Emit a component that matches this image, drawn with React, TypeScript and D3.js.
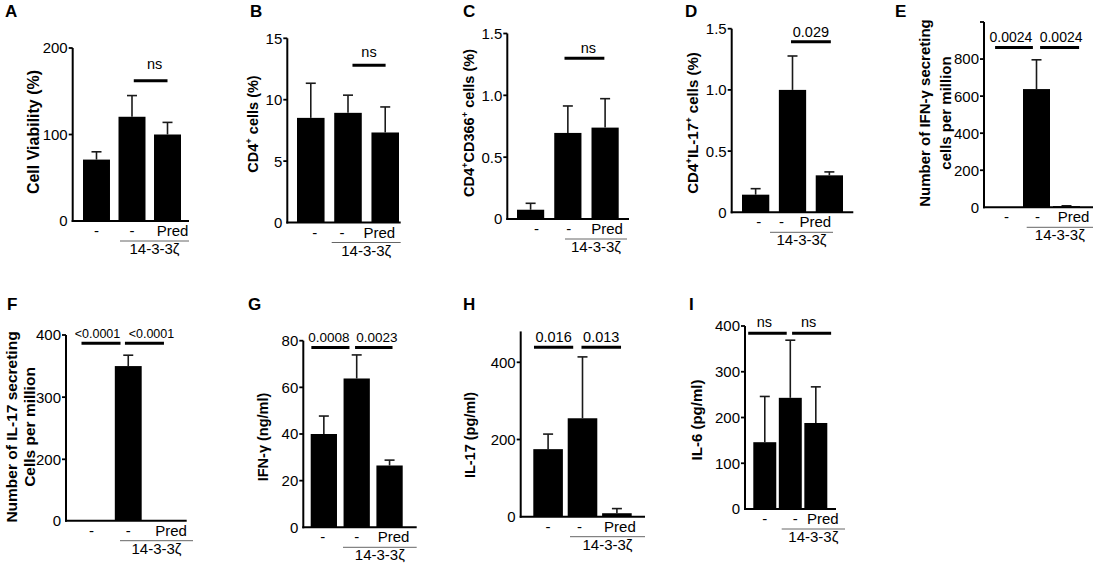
import React from 'react';
import * as d3 from 'd3';

const FONT = 'Liberation Sans, Arial, Helvetica, sans-serif';

// shared categories
const groups = ['ctrl', 'zeta', 'zetaPred'];
const tickLabels = ['-', '-', 'Pred'];
const groupLabel = '14-3-3ζ';

// A: cell viability
const viabilityMean = [71, 120.5, 100];
const viabilitySem = [9, 24.5, 14];
// B: CD4+ cells
const cd4Mean = [8.52, 8.93, 7.33];
const cd4Sem = [2.82, 1.44, 2.08];
// C: CD4+CD366+ cells
const cd366Mean = [0.075, 0.696, 0.739];
const cd366Sem = [0.052, 0.218, 0.234];
// D: CD4+IL-17+ cells
const il17CellsMean = [0.144, 1.0, 0.302];
const il17CellsSem = [0.049, 0.277, 0.028];
// E: IFN-γ secreting cells
const ifnSpotMean = [0, 638, 6];
const ifnSpotSem = [0, 158, 2];
// F: IL-17 secreting cells
const il17SpotMean = [0, 350, 0];
const il17SpotSem = [0, 17.5, 0];
// G: IFN-γ ng/ml
const ifnMean = [40, 63.8, 26.5];
const ifnSem = [7.7, 10.1, 2.3];
// H: IL-17 pg/ml
const il17Mean = [175, 255, 9];
const il17Sem = [39, 159, 12];
// I: IL-6 pg/ml
const il6Mean = [146, 243, 188];
const il6Sem = [100, 126, 79];

// significance labels
const pA = ['ns'];
const pB = ['ns'];
const pC = ['ns'];
const pD = ['0.029'];
const pE = ['0.0024', '0.0024'];
const pF = ['<0.0001', '<0.0001'];
const pG = ['0.0008', '0.0023'];
const pH = ['0.016', '0.013'];
const pI = ['ns', 'ns'];

// y ticks
const ticksA = [0, 100, 200];
const ticksB = [0, 5, 10, 15];
const ticksC = [0, 0.5, 1.0, 1.5];
const ticksE = [0, 200, 400, 600, 800];
const ticksF = [0, 200, 300, 400];
const ticksG = [0, 20, 40, 60, 80];
const ticksH = [0, 200, 400];
const ticksI = [0, 100, 200, 300, 400];

type Seg = { t: string; sup?: boolean };

const panels = [
  {
    letter: 'A', lx: 5, ly: 17, mean: viabilityMean, sem: viabilitySem,
    axisX: 72.7, axisEnd: 189, r0: 83, r1: 181, pi: 0.24,
    yDomain: [0, 200], yRange: [221, 48], top: 200, ticks: ticksA, fmt: (d: number) => String(d),
    sigs: [{ a: 1.05, b: 2.0, y: 162, dx: 4 }], p: pA, sigGap: 12, sigFont: 14.5,
    labels: [[{ t: 'Cell Viability (%)' }]], labX: [33], labY: 132, labFont: 16,
    shift: [0, 0, 5], gl: [120, 189],
  },
  {
    letter: 'B', lx: 250, ly: 17, mean: cd4Mean, sem: cd4Sem,
    axisX: 287.3, axisEnd: 400.7, r0: 297, r1: 399, pi: 0.26,
    yDomain: [0, 15], yRange: [222.5, 38.3], top: 15, ticks: ticksB, fmt: (d: number) => String(d),
    sigs: [{ a: 1.12, b: 2.01, y: 12.8, dx: 0 }], p: pB, sigGap: 8, sigFont: 14.5,
    labels: [[{ t: 'CD4' }, { t: '+', sup: true }, { t: ' cells (%)' }]], labX: [253], labY: 124, labFont: 14.5,
    shift: [4, -6, -6], gl: [331.7, 400.7],
  },
  {
    letter: 'C', lx: 463, ly: 17, mean: cd366Mean, sem: cd366Sem,
    axisX: 507.3, axisEnd: 629, r0: 517, r1: 618.7, pi: 0.27,
    yDomain: [0, 1.5], yRange: [219, 33.5], top: 1.5, ticks: ticksC, fmt: (d: number) => (d === 0 ? '0' : d.toFixed(1)),
    sigs: [{ a: 0.91, b: 1.98, y: 1.3, dx: 4 }], p: pC, sigGap: 5, sigFont: 14.5,
    labels: [[{ t: 'CD4' }, { t: '+', sup: true }, { t: 'CD366' }, { t: '+', sup: true }, { t: ' cells (%)' }]], labX: [469], labY: 123, labFont: 14.5,
    shift: [6, 1, 2], gl: [565, 627],
  },
  {
    letter: 'D', lx: 685, ly: 17, mean: il17CellsMean, sem: il17CellsSem,
    axisX: 731.7, axisEnd: 853.3, r0: 742, r1: 843, pi: 0.26,
    yDomain: [0, 1.5], yRange: [212.3, 28.7], top: 1.5, ticks: ticksC, fmt: (d: number) => (d === 0 ? '0' : d.toFixed(1)),
    sigs: [{ a: 0.96, b: 2.04, y: 1.394, dx: 0 }], p: pD, sigGap: 5, sigFont: 14.5,
    labels: [[{ t: 'CD4' }, { t: '+', sup: true }, { t: 'IL-17' }, { t: '+', sup: true }, { t: ' cells (%)' }]], labX: [693], labY: 123, labFont: 15,
    shift: [3, -11, -14], gl: [770, 833],
  },
  {
    letter: 'E', lx: 895, ly: 17, mean: ifnSpotMean, sem: ifnSpotSem,
    axisX: 984, axisEnd: 1093, r0: 993, r1: 1080, pi: 0.1,
    yDomain: [0, 1000], yRange: [207.3, 22], top: 1000, ticks: [...ticksE, 1000], fmt: (d: number) => (d === 1000 ? '' : String(d)),
    sigs: [{ a: -0.38, b: 0.88, y: 863, dx: -3 }, { a: 1.12, b: 2.42, y: 863, dx: 1.5 }], p: pE, sigGap: 5, sigFont: 14,
    labels: [[{ t: 'Number of IFN-γ secreting' }], [{ t: 'cells per million' }]], labX: [925, 946], labY: 113, labFont: 15,
    shift: [0, 1, 7], gl: [1026.7, 1093],
  },
  {
    letter: 'F', lx: 7, ly: 310, mean: il17SpotMean, sem: il17SpotSem,
    axisX: 66, axisEnd: 186.7, r0: 78, r1: 178.5, pi: 0.27,
    yDomain: [0, 200, 400], yRange: [520.7, 459.3, 335], top: 400, ticks: ticksF, fmt: (d: number) => String(d),
    sigs: [{ a: -0.27, b: 0.79, y: 386.7, dx: -3.5 }, { a: 0.91, b: 1.97, y: 386.7, dx: 7 }], p: pF, sigGap: 5, sigFont: 12.5,
    labels: [[{ t: 'Number of IL-17 secreting' }], [{ t: 'Cells per million' }]], labX: [12, 30], labY: 427, labFont: 15.5,
    shift: [0, 0, 6], gl: [120, 193],
  },
  {
    letter: 'G', lx: 248, ly: 310, mean: ifnMean, sem: ifnSem,
    axisX: 303.3, axisEnd: 416.7, r0: 310.7, r1: 402.7, pi: 0.2,
    yDomain: [0, 80], yRange: [527.3, 340.7], top: 80, ticks: ticksG, fmt: (d: number) => String(d),
    sigs: [{ a: -0.38, b: 0.78, y: 77.1, dx: -1.5 }, { a: 0.95, b: 2.09, y: 77.1, dx: 3 }], p: pG, sigGap: 5, sigFont: 13.5,
    labels: [[{ t: 'IFN-γ (ng/ml)' }]], labX: [262.5], labY: 437, labFont: 14.5,
    shift: [-1, 0, 4], gl: [343, 416.7],
  },
  {
    letter: 'H', lx: 463, ly: 310, mean: il17Mean, sem: il17Sem,
    axisX: 520.7, axisEnd: 645, r0: 533.3, r1: 631.7, pi: 0.14,
    yDomain: [0, 400], yRange: [516.7, 362.3], top: 480, ticks: ticksH, fmt: (d: number) => String(d),
    sigs: [{ a: -0.41, b: 0.73, y: 439, dx: 0 }, { a: 0.97, b: 2.12, y: 439, dx: 0 }], p: pH, sigGap: 5, sigFont: 14.5,
    labels: [[{ t: 'IL-17 (pg/ml)' }]], labX: [470], labY: 435, labFont: 14.5,
    shift: [0, -3, 3], gl: [570, 645],
  },
  {
    letter: 'I', lx: 689, ly: 310, mean: il6Mean, sem: il6Sem,
    axisX: 745, axisEnd: 836, r0: 753.3, r1: 827.3, pi: 0.1,
    yDomain: [0, 400], yRange: [509, 326], top: 400, ticks: ticksI, fmt: (d: number) => String(d),
    sigs: [{ a: -0.65, b: 0.86, y: 384, dx: -3 }, { a: 1.07, b: 2.6, y: 384, dx: -3 }], p: pI, sigGap: 6, sigFont: 14.5,
    labels: [[{ t: 'IL-6 (pg/ml)' }]], labX: [697], labY: 420, labFont: 15,
    shift: [0, 5, 7], gl: [781.7, 845],
  },
];

const Label = ({ segs, x, y, size }: { segs: Seg[]; x: number; y: number; size: number }) => {
  const parts: React.ReactNode[] = [];
  let raised = false;
  segs.forEach((s, i) => {
    let dy = 0;
    if (s.sup && !raised) { dy = -size * 0.4; raised = true; }
    else if (!s.sup && raised) { dy = size * 0.4; raised = false; }
    parts.push(
      <tspan key={i} dy={dy || undefined} fontSize={s.sup ? size * 0.65 : size}>{s.t}</tspan>
    );
  });
  return (
    <text transform={`translate(${x},${y}) rotate(-90)`} textAnchor="middle" dy="0.35em"
      fontWeight="bold" fontSize={size}>{parts}</text>
  );
};

const Panel = ({ cfg }: { cfg: any }) => {
  const x = d3.scaleBand().domain(groups).range([cfg.r0, cfg.r1]).paddingInner(cfg.pi).paddingOuter(0);
  const y = d3.scaleLinear().domain(cfg.yDomain).range(cfg.yRange);
  const bw = x.bandwidth();
  const step = x.step();
  const c0 = (x(groups[0]) as number) + bw / 2;
  const xf = (f: number) => c0 + f * step;
  const base = y(0);
  const capW = 10;

  return (
    <g>
      <text x={cfg.lx} y={cfg.ly} fontWeight="bold" fontSize={17}>{cfg.letter}</text>

      {/* bars */}
      {groups.map((g, i) => {
        const v = cfg.mean[i];
        if (v <= 0) return null;
        return <rect key={g} x={x(g)} y={y(v)} width={bw} height={base - y(v)} fill="#000" />;
      })}

      {/* error bars, upward only */}
      {groups.map((g, i) => {
        const v = cfg.mean[i];
        const e = cfg.sem[i];
        if (e <= 0) return null;
        const cx = (x(g) as number) + bw / 2;
        return (
          <g key={g} stroke="#1a1a1a" strokeWidth={1.6}>
            <line x1={cx} x2={cx} y1={y(v)} y2={y(v + e)} />
            <line x1={cx - capW / 2} x2={cx + capW / 2} y1={y(v + e)} y2={y(v + e)} />
          </g>
        );
      })}

      {/* axes */}
      <line x1={cfg.axisX} x2={cfg.axisX} y1={base + 1} y2={y(cfg.top)} stroke="#000" strokeWidth={2} />
      <line x1={cfg.axisX - 1} x2={cfg.axisEnd} y1={base} y2={base} stroke="#000" strokeWidth={2} />
      {cfg.ticks.map((t: number) => (
        <g key={t}>
          {t !== 0 && <line x1={cfg.axisX - 4} x2={cfg.axisX} y1={y(t)} y2={y(t)} stroke="#000" strokeWidth={1.8} />}
          <text x={cfg.axisX - 5} y={y(t)} dy="0.36em" textAnchor="end" fontSize={15}>{cfg.fmt(t)}</text>
        </g>
      ))}

      {/* x tick labels */}
      {groups.map((g, i) => (
        <text key={g} x={(x(g) as number) + bw / 2 + cfg.shift[i]} y={base + 15} textAnchor="middle" fontSize={15}>
          {tickLabels[i]}
        </text>
      ))}
      <line x1={cfg.gl[0]} x2={cfg.gl[1]} y1={base + 20} y2={base + 20} stroke="#666" strokeWidth={1} />
      <text x={(cfg.gl[0] + cfg.gl[1]) / 2} y={base + 33} textAnchor="middle" fontSize={15}>{groupLabel}</text>

      {/* significance bars */}
      {cfg.sigs.map((s: any, i: number) => (
        <g key={i}>
          <line x1={xf(s.a)} x2={xf(s.b)} y1={y(s.y)} y2={y(s.y)} stroke="#000" strokeWidth={3} />
          <text x={(xf(s.a) + xf(s.b)) / 2 + s.dx} y={y(s.y) - cfg.sigGap} textAnchor="middle" fontSize={cfg.sigFont}>
            {cfg.p[i]}
          </text>
        </g>
      ))}

      {/* y axis title */}
      {cfg.labels.map((segs: Seg[], i: number) => (
        <Label key={i} segs={segs} x={cfg.labX[i]} y={cfg.labY} size={cfg.labFont} />
      ))}
    </g>
  );
};

export default function App() {
  return (
    <svg width={1098} height={569} style={{ position: 'absolute', left: 0, top: 0, background: '#fff' }}
      fontFamily={FONT}>
      <rect width={1098} height={569} fill="#fff" />
      {panels.map((p) => <Panel key={p.letter} cfg={p} />)}
    </svg>
  );
}
